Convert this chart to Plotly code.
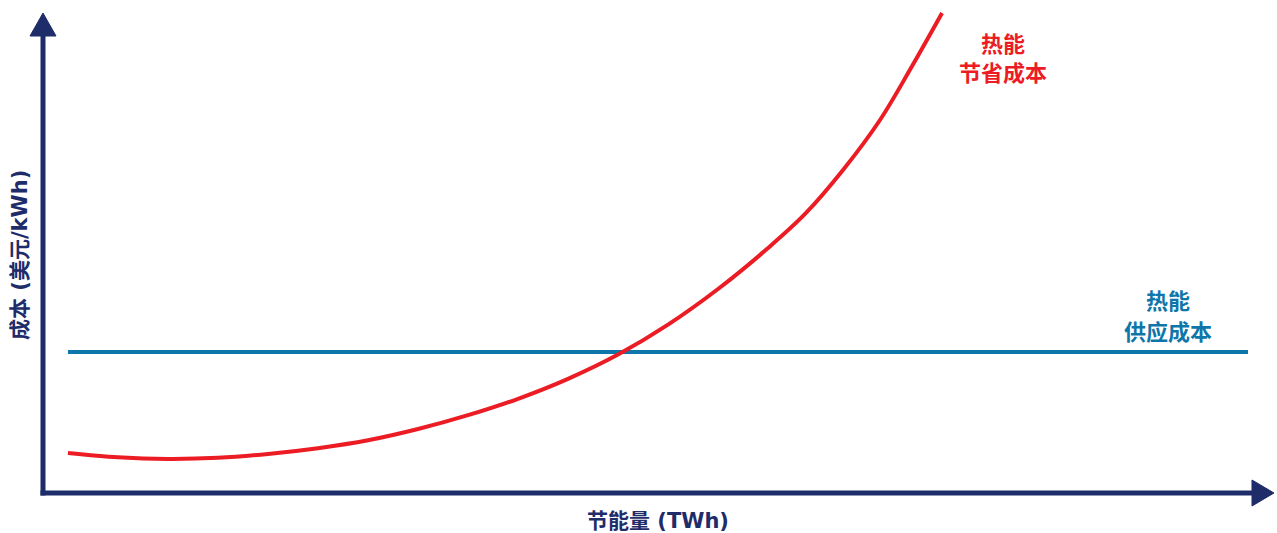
import plotly.graph_objects as go

# Energy-saving cost curve (conceptual units)
savings_twh = [2.07, 6.22, 10.37, 14.52, 18.67, 22.82, 26.97, 31.12, 35.27,
               39.42, 43.57, 47.72, 51.87, 56.02, 60.17, 63.24, 66.39, 69.46,
               72.03, 74.61]
saving_cost = [8.33, 7.44, 7.10, 7.33, 8.13, 9.33, 10.98, 13.33, 16.21,
               19.63, 23.79, 28.85, 35.08, 42.50, 51.04, 58.13, 67.29, 77.71,
               88.54, 100.0]

# Flat heat supply cost
supply_x = [2.07, 100.0]
supply_cost = [29.4, 29.4]

NAVY = "#1f2c6a"
RED = "#ec1c24"
BLUE = "#0f76aa"
CJK = "Noto Sans CJK SC"
TITLE_FONT = "DejaVu Sans, Noto Sans CJK SC"

W, H = 1277, 533
X0_PX, Y0_PX = 43, 493          # pixel position of the origin
PX_PER_X, PX_PER_Y = 12.05, 4.8

x_range = [-X0_PX / PX_PER_X, (W - X0_PX) / PX_PER_X]
y_range = [-(H - Y0_PX) / PX_PER_Y, Y0_PX / PX_PER_Y]


def px_x(p):
    return (p - X0_PX) / PX_PER_X


def px_y(p):
    return (Y0_PX - p) / PX_PER_Y


fig = go.Figure()

fig.add_trace(go.Scatter(
    x=supply_x, y=supply_cost, mode="lines",
    line=dict(color=BLUE, width=4), hoverinfo="skip", showlegend=False,
))
fig.add_trace(go.Scatter(
    x=savings_twh, y=saving_cost, mode="lines",
    line=dict(color=RED, width=4, shape="spline", smoothing=1.0),
    hoverinfo="skip", showlegend=False,
))

# Axis lines with arrowheads
x_end, x_tip = px_x(1252), px_x(1274)
y_end, y_tip = px_y(36), px_y(13)
half_w_x = 13 / PX_PER_X
half_h_y = 13 / PX_PER_Y
pad_x = 2.5 / PX_PER_X
pad_y = 2.5 / PX_PER_Y

shapes = [
    dict(type="line", x0=0, x1=0, y0=-pad_y, y1=y_end + 0.5,
         line=dict(color=NAVY, width=5)),
    dict(type="line", x0=-pad_x, x1=x_end + 0.2, y0=0, y1=0,
         line=dict(color=NAVY, width=5)),
    dict(type="path",
         path=f"M {-half_w_x} {y_end} L {half_w_x} {y_end} L 0 {y_tip} Z",
         fillcolor=NAVY, line=dict(color=NAVY, width=1)),
    dict(type="path",
         path=f"M {x_end} {-half_h_y} L {x_end} {half_h_y} L {x_tip} 0 Z",
         fillcolor=NAVY, line=dict(color=NAVY, width=1)),
]


def label(text, px, py, color):
    return dict(x=px_x(px), y=px_y(py), xref="x", yref="y",
                text=f"<b>{text}</b>", showarrow=False,
                xanchor="center", yanchor="middle",
                font=dict(family=CJK, size=22, color=color))


annotations = [
    label("热能", 1003, 42, RED),
    label("节省成本", 1003, 71, RED),
    label("热能", 1168, 299, BLUE),
    label("供应成本", 1168, 330, BLUE),
    dict(x=658 / W, y=1 - 521 / H, xref="paper", yref="paper",
         xanchor="center", yanchor="middle",
         text="<b>节能量 (TWh)</b>", showarrow=False,
         font=dict(family=TITLE_FONT, size=21, color=NAVY)),
    dict(x=20 / W, y=1 - 255 / H, xref="paper", yref="paper",
         xanchor="center", yanchor="middle",
         text="<b>成本 (美元/kWh)</b>", showarrow=False, textangle=-90,
         font=dict(family=TITLE_FONT, size=21, color=NAVY)),
]

fig.update_layout(
    width=W, height=H,
    margin=dict(l=0, r=0, t=0, b=0),
    paper_bgcolor="white", plot_bgcolor="white",
    xaxis=dict(range=x_range, visible=False, fixedrange=True),
    yaxis=dict(range=y_range, visible=False, fixedrange=True),
    shapes=shapes, annotations=annotations,
)

fig.write_html("out.html", config={"displayModeBar": False})
